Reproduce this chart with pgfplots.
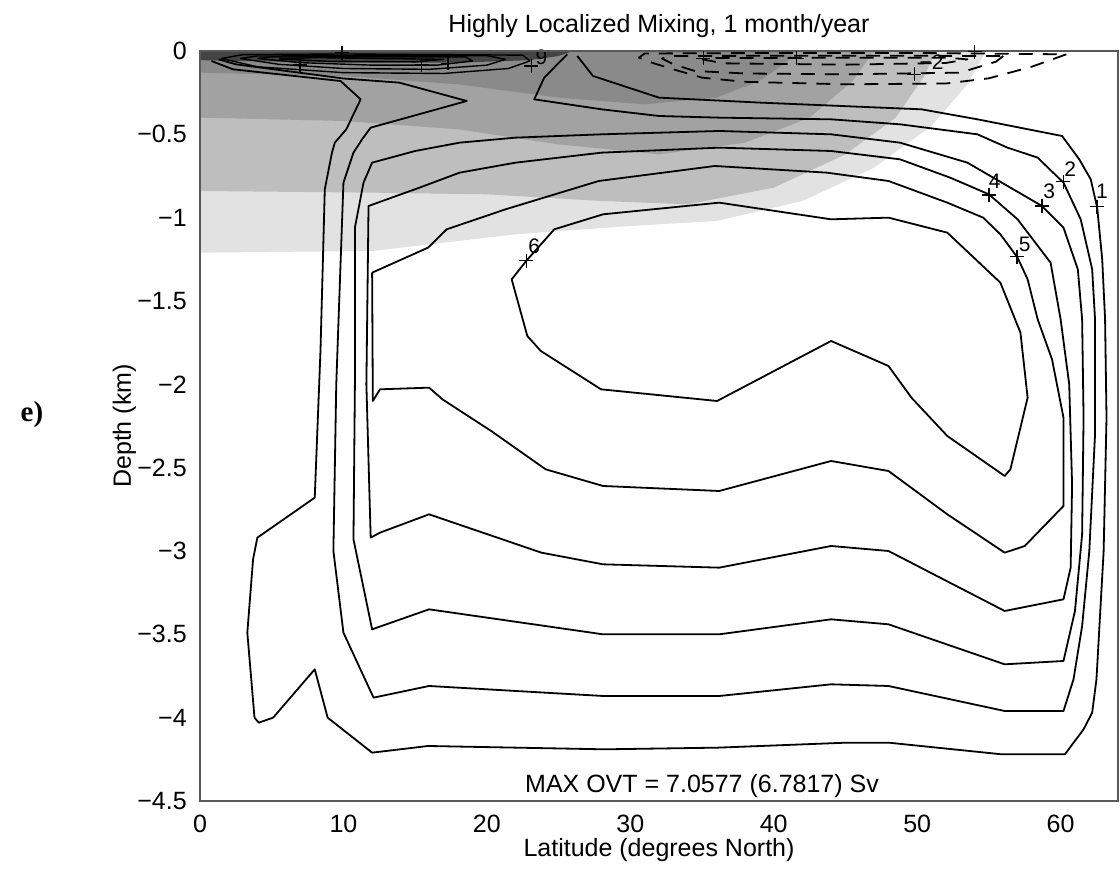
\documentclass[border=0pt]{standalone}
\usepackage{fontspec}
\setmainfont{Liberation Sans}
\newfontfamily\serifbf{Liberation Serif}
\usepackage{pgfplots}
\pgfplotsset{compat=1.18}
\definecolor{gA}{HTML}{E2E2E2}
\definecolor{gB}{HTML}{BEBEBE}
\definecolor{gC}{HTML}{A2A2A2}
\definecolor{gD}{HTML}{8A8A8A}
\definecolor{gE}{HTML}{444444}
\tikzset{cl/.style={black, line width=0.9pt, line join=round, mark=none},
         dl/.style={black, line width=0.9pt, line join=round, mark=none, dash pattern=on 7pt off 5pt},
         tl/.style={black, line width=0.7pt, line join=round, mark=none}}
\begin{document}
\fontsize{12.5}{15}\selectfont
\begin{tikzpicture}
\path[use as bounding box] (-100pt,-34.5pt) rectangle (460pt,400.5pt);
\begin{axis}[
  at={(0pt,0pt)}, anchor=south west,
  scale only axis, width=459pt, height=375pt,
  xmin=0, xmax=64, ymin=-4.5, ymax=0,
  xtick={0,10,20,30,40,50,60},
  xticklabels={0,10,20,30,40,50,60},
  ytick={-4.5,-4,-3.5,-3,-2.5,-2,-1.5,-1,-0.5,0},
  yticklabels={−4.5,−4,−3.5,−3,−2.5,−2,−1.5,−1,−0.5,0},
  major tick length=0pt,
  axis line style={black!65, line width=0.6pt},
  xticklabel style={yshift=-2.8pt, font=\fontsize{12.5}{15}\selectfont},
  yticklabel style={xshift=-2.3pt, font=\fontsize{12.5}{15}\selectfont},
  clip=false,
  axis on top,
]
% ---- shading ----
\addplot[draw=none, fill=gA] coordinates {(0,0) (0,-1.21) (12,-1.2) (22,-1.1) (30,-1.05) (36,-1.02) (42,-0.9) (47,-0.7) (51,-0.45) (53.5,-0.2) (54.8,0)} -- cycle;
\addplot[draw=none, fill=gB] coordinates {(0,0) (0,-0.84) (12,-0.85) (20,-0.86) (28,-0.9) (34,-0.92) (40,-0.82) (45,-0.62) (48.5,-0.4) (50.5,-0.15) (51.3,0)} -- cycle;
\addplot[draw=none, fill=gC] coordinates {(0,0) (0,-0.4) (10,-0.42) (18,-0.47) (25,-0.56) (32,-0.62) (38,-0.55) (42.5,-0.4) (45.5,-0.18) (47,0)} -- cycle;
\addplot[draw=none, fill=gD] coordinates {(0,0) (0,-0.13) (10,-0.15) (18,-0.2) (25,-0.28) (31,-0.32) (36,-0.28) (39,-0.18) (41,-0.06) (41.5,0)} -- cycle;
\addplot[draw=none, fill=gE] coordinates {(0,0) (0,-0.055) (3,-0.06) (10,-0.07) (18,-0.07) (23,-0.055) (25,-0.03) (26,0)} -- cycle;
% ---- contour 1 ----
\addplot[cl] coordinates {(0.8,-0.06) (2.3,-0.11) (9.8,-0.18) (11.2,-0.29) (10.2,-0.47) (9.4,-0.55) (9.2,-0.61) (8.7,-0.83) (8.4,-1.8) (8.0,-2.68) (4.0,-2.92) (3.7,-3.05) (3.3,-3.49) (3.8,-4.0) (4.1,-4.03) (5.1,-4.0) (8.0,-3.71) (8.9,-4.0) (12.0,-4.21) (15.9,-4.17) (28.2,-4.19) (36.1,-4.18) (45.1,-4.15) (48.0,-4.15) (55.9,-4.22) (60.3,-4.22) (61.6,-4.07) (62.2,-3.97) (62.5,-3.77) (63.0,-3.0) (63.2,-2.2) (63.1,-1.61) (62.9,-1.25) (62.55,-0.94) (62.1,-0.77) (61.3,-0.65) (60.1,-0.51) (54.2,-0.41) (50.3,-0.35) (39.1,-0.31) (32.0,-0.28) (27.4,-0.15) (26.3,-0.03)};
% ---- contour 2 ----
\addplot[cl] coordinates {(25.6,-0.02) (24.0,-0.16) (23.3,-0.29) (28,-0.35) (32.0,-0.39) (36.2,-0.40) (44,-0.41) (48.8,-0.44) (54.2,-0.50) (56.3,-0.58) (58.4,-0.64) (60.2,-0.79) (61.4,-1.01) (62.2,-1.31) (62.4,-1.61) (62.4,-2.3) (62.0,-3.0) (61.5,-3.45) (60.9,-3.77) (60.2,-3.96) (56.1,-3.96) (48.0,-3.81) (44.0,-3.80) (36.2,-3.87) (28.1,-3.87) (15.97,-3.81) (12.1,-3.88) (10.0,-3.49) (9.3,-3.0) (9.5,-2.0) (10.0,-0.79) (10.7,-0.61) (11.3,-0.53) (11.9,-0.46) (18.6,-0.30) (13.9,-0.19) (10.0,-0.165) (2.5,-0.08) (1.3,-0.05)};
% ---- contour 3 ----
\addplot[cl] coordinates {(18.1,-0.55) (15,-0.60) (12.0,-0.67) (11.4,-0.79) (10.8,-1.06) (10.8,-2.0) (10.7,-2.93) (12.0,-3.47) (15.97,-3.35) (28.1,-3.50) (36.2,-3.50) (44.0,-3.41) (48.0,-3.44) (56.1,-3.68) (60.2,-3.66) (61.0,-3.36) (61.5,-2.9) (61.6,-2.2) (61.5,-1.61) (61.2,-1.31) (60.2,-1.06) (58.7,-0.93) (56.5,-0.82) (53.5,-0.67) (48.8,-0.55) (44,-0.50) (36.2,-0.48) (28,-0.50) (22,-0.52) (18.1,-0.55)};
% ---- contour 4 ----
\addplot[cl] coordinates {(18.1,-0.73) (15.3,-0.82) (11.75,-0.93) (11.6,-2.0) (11.9,-2.92) (12.55,-2.89) (15.97,-2.78) (23.8,-3.01) (28.1,-3.08) (36.2,-3.10) (44.0,-2.97) (48.0,-3.00) (56.1,-3.36) (60.2,-3.29) (60.7,-3.1) (60.8,-2.6) (60.6,-2.0) (60.0,-1.61) (59.3,-1.27) (57.0,-1.01) (55.0,-0.86) (52.3,-0.76) (48.8,-0.65) (44,-0.60) (36.2,-0.58) (28,-0.61) (22,-0.67) (18.1,-0.73)};
% ---- contour 5 ----
\addplot[cl] coordinates {(12.0,-1.33) (15.9,-1.18) (17.2,-1.07) (21.3,-0.95) (27.8,-0.78) (35.9,-0.69) (43.7,-0.73) (48.0,-0.78) (52.1,-0.91) (54.6,-1.00) (55.8,-1.10) (57.0,-1.24) (57.7,-1.37) (58.4,-1.61) (59.4,-1.85) (60.2,-2.2) (60.2,-2.73) (57.5,-2.97) (56.1,-3.01) (52.1,-2.78) (48.0,-2.52) (44.0,-2.46) (36.2,-2.64) (28.1,-2.61) (24.1,-2.51) (20.3,-2.28) (16.9,-2.09) (15.97,-2.02) (12.55,-2.03) (12.05,-2.1) (12.0,-1.33)};
% ---- contour 6 ----
\addplot[cl] coordinates {(22.76,-1.258) (21.73,-1.37) (22.82,-1.71) (23.76,-1.80) (27.96,-2.03) (36.05,-2.10) (44.0,-1.74) (48.0,-1.89) (49.6,-2.08) (52.1,-2.31) (56.1,-2.55) (56.5,-2.51) (57.7,-2.08) (57.2,-1.69) (55.8,-1.39) (52.1,-1.09) (48.0,-1.00) (44.0,-1.01) (36.2,-0.91) (28.1,-0.98) (24.7,-1.07) (22.76,-1.258)};
% ---- tropical cell loops ----
\addplot[tl] coordinates {(1.5,-0.045) (4,-0.095) (10,-0.13) (17,-0.135) (21.5,-0.105) (23,-0.06) (22.5,-0.025) (10,-0.018) (3,-0.022) (1.5,-0.045)};
\addplot[tl] coordinates {(2.8,-0.045) (5.5,-0.08) (10,-0.105) (16,-0.11) (20,-0.085) (21.3,-0.05) (20,-0.028) (4,-0.03) (2.8,-0.045)};
\addplot[tl] coordinates {(4,-0.045) (7,-0.07) (12,-0.085) (16.5,-0.085) (19,-0.06) (18.5,-0.035) (5,-0.035) (4,-0.045)};
\addplot[tl] coordinates {(5.5,-0.048) (9,-0.062) (15,-0.065) (17,-0.05) (8,-0.04) (5.5,-0.048)};
% ---- negative (dashed) contours ----
\addplot[dl] coordinates {(60.4,-0.02) (58,-0.094) (55,-0.164) (52,-0.195) (45,-0.2) (38,-0.185) (35,-0.16) (33,-0.11) (31.5,-0.07) (30.6,-0.04) (31,-0.015) (40,-0.012) (50,-0.012) (60.4,-0.02)};
\addplot[dl] coordinates {(56,-0.03) (55.5,-0.064) (53,-0.13) (45,-0.14) (38,-0.135) (34.5,-0.12) (33,-0.08) (32.2,-0.045) (33,-0.03) (45,-0.028) (56,-0.03)};
\addplot[dl] coordinates {(35,-0.05) (36.5,-0.074) (45,-0.082) (52,-0.072) (53.5,-0.05) (52,-0.04) (36,-0.042) (35,-0.05)};
% ---- label markers ----
\addplot[only marks, mark=+, mark size=3.5pt, black, line width=0.7pt] coordinates {(62.53,-0.934) (60.2,-0.784) (58.7,-0.93) (55.0,-0.864) (56.95,-1.234) (22.76,-1.258) (23.1,-0.09) (6.97,-0.084) (9.9,-0.01) (15.46,-0.084) (17.3,-0.074) (35.1,-0.044) (41.6,-0.044) (49.8,-0.14) (54.0,-0.004)};
% ---- contour labels ----
\begin{scope}[every node/.style={font=\fontsize{10.5}{12}\selectfont, inner sep=0pt}]
\node at (axis cs:62.88,-0.844) {1};
\node at (axis cs:60.67,-0.71) {2};
\node at (axis cs:59.2,-0.844) {3};
\node at (axis cs:55.4,-0.784) {4};
\node at (axis cs:57.5,-1.158) {5};
\node at (axis cs:23.3,-1.17) {6};
\node at (axis cs:23.8,-0.035) {9};
\node at (axis cs:51.0,-0.065) {−2};
\end{scope}
% ---- texts ----
\node[anchor=base] at (axis cs:35.0,-4.45) {MAX OVT = 7.0577 (6.7817) Sv};
\node[anchor=base, yshift=9pt] at (rel axis cs:0.5,1) {Highly Localized Mixing, 1 month/year};
\node[anchor=base, yshift=-28pt] at (rel axis cs:0.5,0) {Latitude (degrees North)};
\node[anchor=base, rotate=90] at ([xshift=-34.5pt]rel axis cs:0,0.5) {Depth (km)};
\node[anchor=center] at ([xshift=-84pt, yshift=193pt]rel axis cs:0,0) {\fontsize{14.5}{16}\selectfont\serifbf\bfseries e)};
\end{axis}
\end{tikzpicture}
\end{document}
